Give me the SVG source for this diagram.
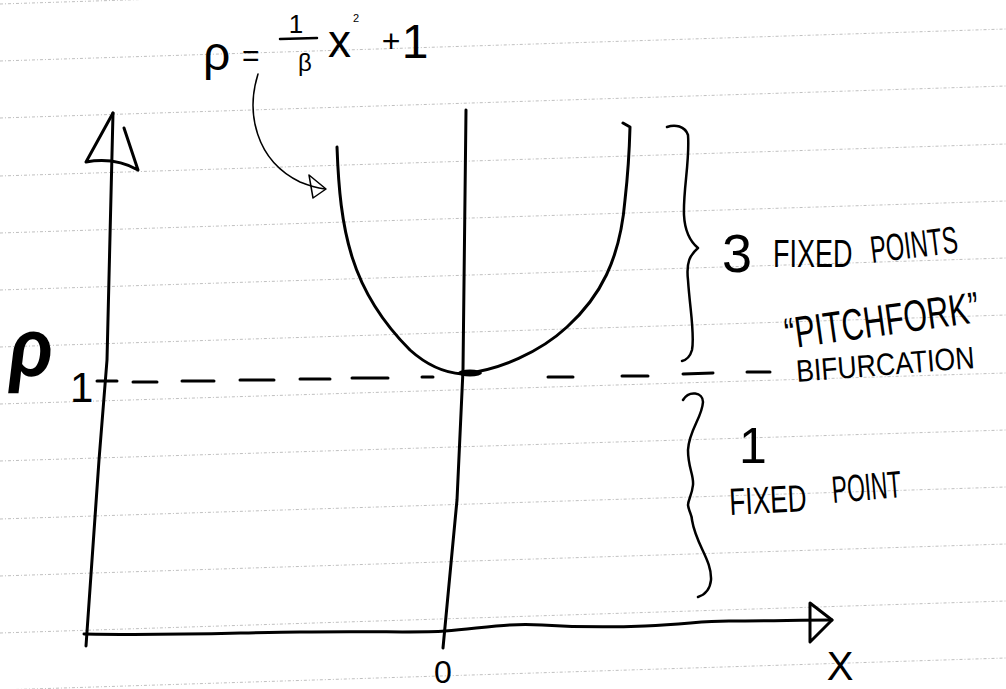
<svg xmlns="http://www.w3.org/2000/svg" width="1006" height="689" viewBox="0 0 1006 689">
<style>
.rule{stroke:#b8b8b8;stroke-width:0.9;stroke-dasharray:3 2 1 2;fill:none}
.ink{fill:none;stroke:#000;stroke-linecap:round;stroke-linejoin:round}
.thick{stroke-width:3}
.med{stroke-width:2.5}
.thin{stroke-width:1.5}
.hw{font-family:'Liberation Sans','DejaVu Sans',sans-serif;fill:#000}
</style>
<rect width="1006" height="689" fill="#fff"/>
<g id="ruled-paper">
<line class="rule" x1="0" y1="4" x2="1006" y2="-28"/>
<line class="rule" x1="0" y1="61" x2="1006" y2="29"/>
<line class="rule" x1="0" y1="118" x2="1006" y2="86"/>
<line class="rule" x1="0" y1="176" x2="1006" y2="144"/>
<line class="rule" x1="0" y1="233" x2="1006" y2="201"/>
<line class="rule" x1="0" y1="290" x2="1006" y2="258"/>
<line class="rule" x1="0" y1="347" x2="1006" y2="315"/>
<line class="rule" x1="0" y1="404" x2="1006" y2="373"/>
<line class="rule" x1="0" y1="461" x2="1006" y2="430"/>
<line class="rule" x1="0" y1="519" x2="1006" y2="487"/>
<line class="rule" x1="0" y1="576" x2="1006" y2="544"/>
<line class="rule" x1="0" y1="633" x2="1006" y2="601"/>
<line class="rule" x1="0" y1="690" x2="1006" y2="658"/>
</g>
<g id="axes">
<path class="ink thick" d="M113,113 L107,360 L99,460 L86,646"/>
<path class="ink thick" d="M86,162 L113,113 M86,162 Q115,157 138,170 L124,128"/>
<path class="ink thick" d="M84,634 C180,636 250,632 300,632 C380,631 420,633 445,631 C490,627 510,623 542,625 C590,628 620,627 645,626 C690,624 700,621 729,621 C770,621 800,620 832,620"/>
<path class="ink thick" d="M810,603 L832,620 L810,642 Z"/>
</g>
<g id="curve">
<path class="ink thick" d="M466,110 L463,370 L457,500 L443,648"/>
<path class="ink thick" d="M337,147 C340,230 350,290 410,350 C430,368 448,373 462,374 C500,370 540,352 567,327 C600,297 620,260 625,200 Q629,165 630,127 L623,123"/>
<ellipse cx="470" cy="373" rx="12" ry="3.5" fill="#000"/>
</g>
<g id="connectors">
<path class="ink thin" d="M258,74 C246,112 255,160 300,182 C310,186 318,188 325,189"/>
<path class="ink thin" d="M309,175 L326,189 L313,198 Z"/>
<path class="ink thick" d="M97,381 L117,381 M133,382 L157,382 M182,381 L214,381 M240,380 L274,380 M300,379 L330,379 M352,378 L388,378 M422,377 L433,377 M548,377 L573,377 M622,376 L648,376 M683,374 L713,373 M747,372 L770,372"/>
</g>
<g id="equation">
<text class="hw" x="203" y="70" font-size="48">ρ</text>
<text class="hw" x="242" y="66" font-size="30">=</text>
<text class="hw" x="296" y="33" font-size="26" text-anchor="middle">1</text>
<line class="ink med" x1="280" y1="39" x2="317" y2="38"/>
<text class="hw" x="305" y="71" font-size="24" text-anchor="middle">β</text>
<text class="hw" x="328" y="57" font-size="46">x</text>
<text class="hw" x="356" y="22" font-size="11" text-anchor="middle">2</text>
<text class="hw" x="391" y="52" font-size="32" text-anchor="middle">+</text>
<text class="hw" x="415" y="58" font-size="48" text-anchor="middle">1</text>
</g>
<g id="label-rho1">
<text class="hw" font-size="72" font-weight="bold" transform="translate(6 376) scale(1 1.15) skewX(-8)">ρ</text>
<text class="hw" x="70" y="402" font-size="42">1</text>
</g>
<g id="brace-three">
<path class="ink med" d="M667,127 C675,124 685,126 688,135 C690,160 683,190 684,215 C685,235 692,243 698,248 C690,255 686,262 688,280 C690,310 695,335 692,350 C690,357 686,360 682,361"/>
</g>
<g id="label-three">
<text class="hw" x="737" y="272" font-size="54" text-anchor="middle">3</text>
<text class="hw" font-size="38" transform="translate(773 267) scale(0.71 1)">FIXED</text>
<text class="hw" font-size="38" transform="translate(872 263) rotate(-7) scale(0.62 1)">POINTS</text>
</g>
<g id="label-pitchfork">
<text class="hw" font-size="44" transform="translate(787 349) rotate(-8) scale(0.69 1)">“PITCHFORK”</text>
<text class="hw" font-size="31" transform="translate(797 382) rotate(-4.5) scale(0.86 1)">BIFURCATION</text>
</g>
<g id="brace-one">
<path class="ink med" d="M683,400 C689,390 703,392 703,402 C702,418 689,430 688,450 C688,468 694,475 693,485 C692,495 688,500 688,505 C689,512 692,515 692,520 C696,545 712,560 711,580 C710,590 704,595 698,597"/>
</g>
<g id="label-one">
<text class="hw" x="753" y="463" font-size="50" text-anchor="middle">1</text>
<text class="hw" font-size="38" transform="translate(730 515) rotate(-3) scale(0.69 1)">FIXED</text>
<text class="hw" font-size="38" transform="translate(833 503) rotate(-5) scale(0.6 1)">POINT</text>
</g>
<g id="axis-labels">
<text class="hw" x="443" y="683" font-size="32" text-anchor="middle">0</text>
<text class="hw" x="840" y="680" font-size="40" text-anchor="middle">X</text>
</g>
</svg>
